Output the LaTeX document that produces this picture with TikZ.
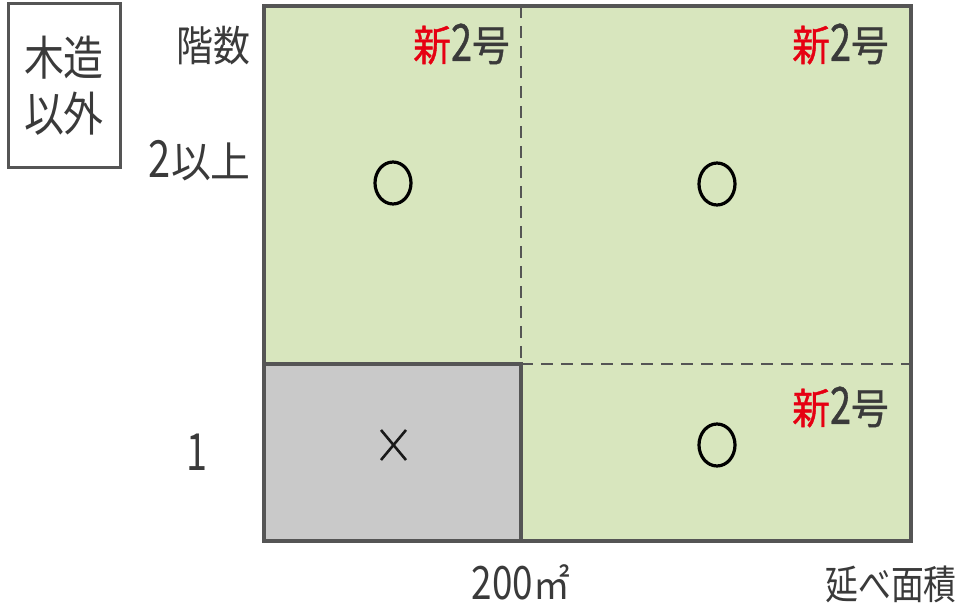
\documentclass[tikz,border=0pt]{standalone}
\usepackage{fontspec}
\usepackage{graphicx}
\setmainfont{Noto Sans CJK JP}
\newfontfamily\boldcjk[FakeBold=1.0]{Noto Sans CJK JP}
\definecolor{areagreen}{HTML}{D8E6BE}
\definecolor{areagray}{HTML}{C9C9C9}
\definecolor{linegray}{HTML}{555555}
\definecolor{txtgray}{HTML}{3A3A3A}
\definecolor{newred}{HTML}{E60012}
\newcommand{\dg}[1]{\scalebox{1}[1.22]{#1}}
\tikzset{
  frameline/.style={draw=linegray, line width=4pt},
  dashline/.style={draw=linegray, line width=2pt, dash pattern=on 12pt off 8pt},
  lbl/.style={text=txtgray, inner sep=0pt},
  okmark/.style={draw=black, line width=3.2pt},
  ngmark/.style={draw=black!90, line width=2.6pt},
}
\newcommand{\shin}{{\boldcjk\textcolor{newred}{新}\dg{2}号}}
\begin{document}
\begin{tikzpicture}[x=1pt,y=-1pt]
\useasboundingbox (0,0) rectangle (959,612);
% areas
\fill[areagreen] (264,6) rectangle (911,541);
\fill[areagray] (264,364) rectangle (521,541);
\coordinate (tl) at (264,6);
\coordinate (br) at (911,541);
\coordinate (mt) at (521,6);
\coordinate (mm) at (521,364);
\coordinate (mb) at (521,541);
\coordinate (lm) at (264,364);
\coordinate (rm) at (911,364);
\draw[dashline] (mt) -- (mm);
\draw[dashline] (mm) -- (rm);
\draw[frameline] (lm) -- (mm) -- (mb);
\draw[frameline] (tl) rectangle (br);
% legend box
\draw[draw=linegray, line width=3pt] (8,4) rectangle (120,168);
\node[lbl, xscale=0.85, font=\fontsize{47}{52}\selectfont] (mz) at (64,58) {木造};
\node[lbl, xscale=0.85, font=\fontsize{47}{52}\selectfont] (ig) at (64,114) {以外};
% axis labels
\node[lbl, anchor=east, xscale=0.88, font=\fontsize{42}{48}\selectfont] (kaisu) at (251,46) {階数};
\node[lbl, anchor=east, xscale=0.95, font=\fontsize{42}{48}\selectfont] (ijo) at (251,161) {\dg{2}以上};
\node[lbl, xscale=0.9, font=\fontsize{42}{48}\selectfont] (one) at (197,452) {\dg{1}};
\node[lbl, xscale=0.92, font=\fontsize{40}{48}\selectfont] (area) at (521,582) {\scalebox{1}[1.15]{200}㎡};
\node[lbl, xscale=0.82, font=\fontsize{40}{48}\selectfont] (nobe) at (891,584) {延べ面積};
% new 2 labels
\node[lbl, anchor=east, xscale=0.9, font=\fontsize{42}{48}\selectfont] (n1) at (510,44) {\shin};
\node[lbl, anchor=east, xscale=0.9, font=\fontsize{42}{48}\selectfont] (n2) at (889,44) {\shin};
\node[lbl, anchor=east, xscale=0.9, font=\fontsize{42}{48}\selectfont] (n3) at (889,407) {\shin};
% marks
\draw[okmark] (393,183) ellipse [x radius=18pt, y radius=21pt];
\draw[okmark] (717,184) ellipse [x radius=18pt, y radius=21pt];
\draw[okmark] (717,445) ellipse [x radius=18pt, y radius=21pt];
\draw[ngmark] (381,430) -- (406,460);
\draw[ngmark] (406,430) -- (381,460);
\end{tikzpicture}
\end{document}
